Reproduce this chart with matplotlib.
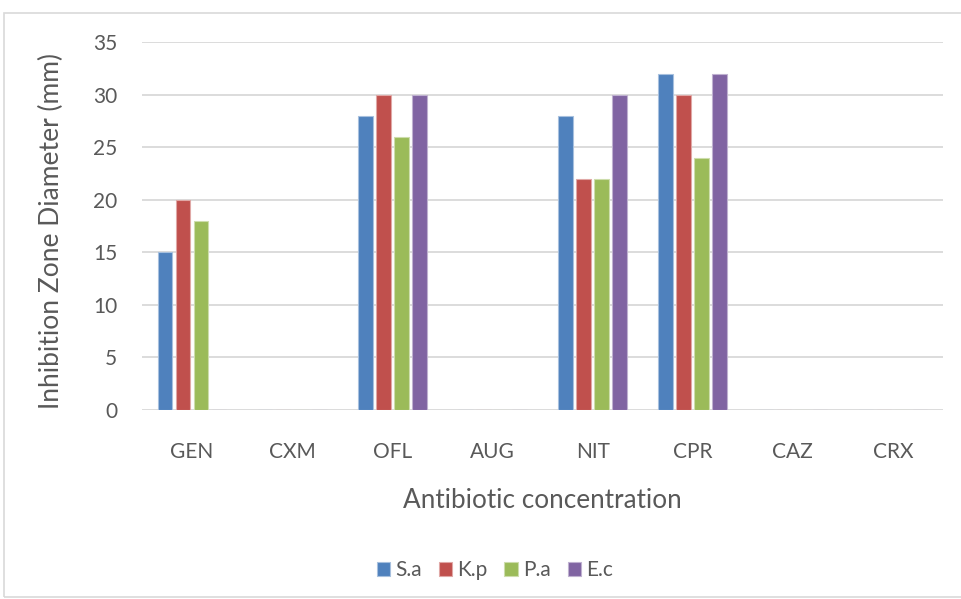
import numpy as np
import matplotlib.pyplot as plt
from matplotlib.patches import Rectangle

categories = ['GEN', 'CXM', 'OFL', 'AUG', 'NIT', 'CPR', 'CAZ', 'CRX']
series = ['S.a', 'K.p', 'P.a', 'E.c']
sa = [15, 0, 28, 0, 28, 32, 0, 0]
kp = [20, 0, 30, 0, 22, 30, 0, 0]
pa = [18, 0, 26, 0, 22, 24, 0, 0]
ec = [0, 0, 30, 0, 30, 32, 0, 0]
colors = ['#4F81BD', '#C0504D', '#9BBB59', '#8064A2']
edges = ['#A7C0DE', '#E0A8A6', '#CDDDAC', '#BFB1D0']

plt.rcParams['font.family'] = ['Lato', 'DejaVu Sans']
text_color = '#595959'

fig = plt.figure(figsize=(9.61, 5.99), dpi=100)
ax = fig.add_axes([0.1478, 0.3155, 0.8335, 0.6144])

# outer chart border like Excel
fig.patches.append(Rectangle((4 / 961, 1 - 597 / 599), 1.0, 584 / 599,
                             transform=fig.transFigure, fill=False,
                             edgecolor='#D9D9D9', linewidth=1.2))

x = np.arange(len(categories))
slot = 0.18
width = 0.145
for i, vals in enumerate([sa, kp, pa, ec]):
    offs = (i - 1.5) * slot
    ax.bar(x + offs, vals, width, color=colors[i], edgecolor=edges[i],
           linewidth=0.8, label=series[i], zorder=3)

ax.set_xlim(-0.5, len(categories) - 0.5)
ax.set_ylim(0, 35)
ax.set_yticks(range(0, 36, 5))
ax.set_xticks(x)
ax.set_xticklabels(categories)
ax.grid(axis='y', color='#D9D9D9', linewidth=1.3, zorder=0)
for s in ax.spines.values():
    s.set_visible(False)
ax.tick_params(axis='both', length=0, labelsize=15, colors=text_color)
ax.tick_params(axis='x', pad=23)
ax.tick_params(axis='y', pad=18)

ax.set_xlabel('Antibiotic concentration', fontsize=18.8, color=text_color, labelpad=19)
ax.set_ylabel('Inhibition Zone Diameter (mm)', fontsize=19, color=text_color)
ax.yaxis.set_label_coords(-0.098, 0.486)

ax.legend(loc='center', bbox_to_anchor=(495 / 961, 1 - 570 / 599),
          bbox_transform=fig.transFigure, ncol=4, frameon=False,
          fontsize=15, labelcolor=text_color, handlelength=0.65,
          handleheight=0.65, handletextpad=0.25, columnspacing=0.8)

fig.savefig('out.png', dpi=100)
